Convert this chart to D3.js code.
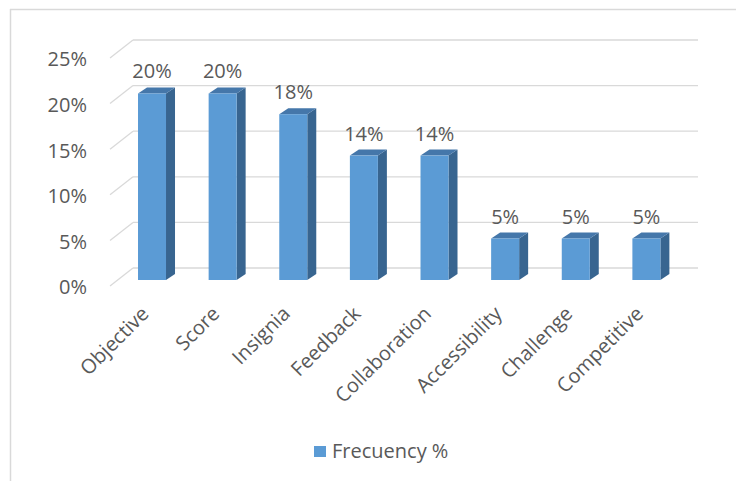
<!DOCTYPE html>
<html>
<head>
<meta charset="utf-8">
<script src="https://cdn.jsdelivr.net/npm/d3@7"></script>
<style>
  html, body { margin: 0; padding: 0; background: #ffffff; }
  svg { display: block; }
  text { font-family: "Open Sans", sans-serif; fill: #595959; }
</style>
</head>
<body>
<svg id="chart" width="736" height="481"></svg>
<script>
const categories = ["Objective", "Score", "Insignia", "Feedback", "Collaboration", "Accessibility", "Challenge", "Competitive"];
const values = [20.45, 20.45, 18.18, 13.64, 13.64, 4.55, 4.55, 4.55];
const valueLabels = ["20%", "20%", "18%", "14%", "14%", "5%", "5%", "5%"];
const yTicks = [0, 5, 10, 15, 20, 25];
const seriesName = "Frecuency %";

const W = 736, H = 481;
const FS = "20px";
const svg = d3.select("#chart");

// frame
svg.append("line").attr("x1", 10).attr("x2", W).attr("y1", 9.5).attr("y2", 9.5)
  .attr("stroke", "#d9d9d9").attr("stroke-width", 1.5);
svg.append("line").attr("x1", 10.5).attr("x2", 10.5).attr("y1", 9).attr("y2", H)
  .attr("stroke", "#d9d9d9").attr("stroke-width", 1.5);

// 3D geometry
const depthX = 23, depthY = -18;   // floor depth
const barDX = 9, barDY = -6;        // bar depth
const frontLeft = 110, frontRight = 675;

const x = d3.scaleBand().domain(categories).range([frontLeft, frontRight]);
const yFront = d3.scaleLinear().domain([0, 25]).range([286, 58]);
const yBack = d3.scaleLinear().domain([0, 25]).range([286 + depthY, 58 + depthY]);
const yBar = d3.scaleLinear().domain([0, 25]).range([280, 52]);
const barW = 28;
const barShift = 6.7;

// gridlines (back wall + diagonal on side)
const grid = svg.append("g");
yTicks.forEach(t => {
  grid.append("line")
    .attr("x1", frontLeft).attr("y1", yFront(t))
    .attr("x2", frontLeft + depthX).attr("y2", yBack(t))
    .attr("stroke", "#d9d9d9").attr("stroke-width", 1.3);
  grid.append("line")
    .attr("x1", frontLeft + depthX).attr("y1", yBack(t))
    .attr("x2", frontRight + depthX).attr("y2", yBack(t))
    .attr("stroke", "#d9d9d9").attr("stroke-width", 1.3);
});

// y axis labels
const yAxis = d3.axisLeft(yFront).tickValues(yTicks).tickFormat(d => d + "%").tickSize(0).tickPadding(0);
const yg = svg.append("g").attr("transform", "translate(87,1.5)").call(yAxis);
yg.select(".domain").remove();
yg.selectAll("text").style("font-family", "'Open Sans', sans-serif").style("font-size", FS).attr("fill", "#595959");

// bars
const bars = svg.append("g").selectAll("g.bar").data(categories).join("g").attr("class", "bar");
bars.each(function(c, i) {
  const g = d3.select(this);
  const x0 = x(c) + x.bandwidth() / 2 + barShift - barW / 2;
  const x1 = x0 + barW;
  const yt = yBar(values[i]);
  const yb = yBar(0);
  // side
  g.append("path")
    .attr("d", `M${x1},${yb} L${x1 + barDX},${yb + barDY} L${x1 + barDX},${yt + barDY} L${x1},${yt} Z`)
    .attr("fill", "#386590");
  // top
  g.append("path")
    .attr("d", `M${x0},${yt} L${x0 + barDX},${yt + barDY} L${x1 + barDX},${yt + barDY} L${x1},${yt} Z`)
    .attr("fill", "#4577aa");
  // front
  g.append("rect")
    .attr("x", x0).attr("y", yt).attr("width", barW).attr("height", yb - yt)
    .attr("fill", "#5b9bd5");
  // value label
  g.append("text")
    .attr("x", x0 + barW / 2).attr("y", yt - 15)
    .attr("text-anchor", "middle")
    .style("font-size", FS)
    .text(valueLabels[i]);
});

// x labels
const xl = svg.append("g");
categories.forEach(c => {
  const cx = x(c) + x.bandwidth() / 2 + barShift;
  xl.append("text")
    .attr("transform", `translate(${cx - 2},${315}) rotate(-45)`)
    .attr("text-anchor", "end")
    .style("font-size", FS)
    .text(c);
});

// legend
const lg = svg.append("g");
lg.append("rect").attr("x", 314).attr("y", 446).attr("width", 12).attr("height", 11).attr("fill", "#5b9bd5");
lg.append("text").attr("x", 332).attr("y", 458).style("font-size", FS).text(seriesName);
</script>
</body>
</html>
